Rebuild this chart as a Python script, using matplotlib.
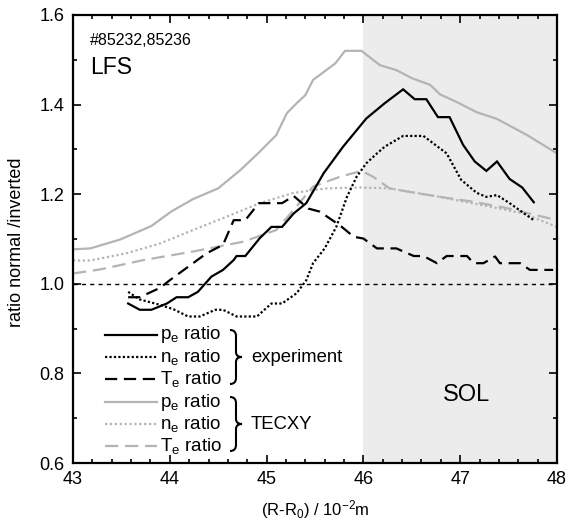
import matplotlib
matplotlib.use("Agg")
import matplotlib.pyplot as plt
from matplotlib.lines import Line2D
from matplotlib.path import Path
from matplotlib.patches import PathPatch
from matplotlib.ticker import MultipleLocator, FormatStrFormatter

plt.rcParams['font.family'] = ['Liberation Sans', 'DejaVu Sans']
plt.rcParams['mathtext.fontset'] = 'custom'
plt.rcParams['mathtext.rm'] = 'Liberation Sans'
plt.rcParams['mathtext.it'] = 'Liberation Sans'

# experiment
exp_pe_x = [43.57, 43.69, 43.81, 43.97, 44.07, 44.19, 44.29, 44.43, 44.55, 44.66, 44.69, 44.78, 44.93,
            45.05, 45.16, 45.28, 45.41, 45.59, 45.79, 46.03, 46.22, 46.41, 46.53, 46.65, 46.77, 46.89,
            47.03, 47.15, 47.27, 47.38, 47.51, 47.64, 47.76]
exp_pe_y = [0.956, 0.942, 0.942, 0.956, 0.970, 0.970, 0.982, 1.016, 1.031, 1.053, 1.062, 1.062, 1.102,
            1.127, 1.127, 1.157, 1.180, 1.247, 1.306, 1.369, 1.403, 1.434, 1.412, 1.412, 1.372, 1.372,
            1.310, 1.273, 1.252, 1.273, 1.234, 1.215, 1.182]

exp_ne_x = [43.57, 43.69, 43.90, 44.04, 44.19, 44.31, 44.47, 44.55, 44.69, 44.90, 45.05, 45.16, 45.31,
            45.41, 45.48, 45.60, 45.72, 45.83, 45.93, 46.03, 46.14, 46.22, 46.41, 46.62, 46.86, 47.01,
            47.17, 47.27, 47.38, 47.51, 47.76]
exp_ne_y = [0.982, 0.965, 0.953, 0.943, 0.927, 0.927, 0.942, 0.942, 0.927, 0.927, 0.956, 0.956, 0.979,
            1.008, 1.046, 1.079, 1.127, 1.194, 1.239, 1.269, 1.291, 1.306, 1.330, 1.330, 1.291, 1.232,
            1.203, 1.194, 1.198, 1.180, 1.142]

exp_te_x = [43.57, 43.69, 43.78, 43.90, 44.00, 44.38, 44.55, 44.66, 44.78, 44.92, 45.16, 45.28, 45.43,
            45.55, 45.76, 45.90, 46.00, 46.14, 46.34, 46.52, 46.62, 46.76, 46.86, 47.07, 47.14, 47.24,
            47.36, 47.41, 47.62, 47.72, 47.96]
exp_te_y = [0.970, 0.970, 0.979, 0.991, 1.008, 1.068, 1.087, 1.142, 1.142, 1.180, 1.180, 1.196, 1.168,
            1.161, 1.130, 1.105, 1.101, 1.079, 1.079, 1.062, 1.062, 1.046, 1.062, 1.062, 1.046, 1.046,
            1.061, 1.046, 1.046, 1.031, 1.031]

# TECXY
tec_pe_x = [43.0, 43.18, 43.49, 43.81, 44.02, 44.24, 44.50, 44.73, 44.93, 45.10, 45.21, 45.31, 45.40,
            45.48, 45.71, 45.81, 45.98, 46.17, 46.34, 46.50, 46.69, 46.79, 46.98, 47.17, 47.38, 47.69, 48.0]
tec_pe_y = [1.077, 1.079, 1.099, 1.129, 1.162, 1.189, 1.213, 1.254, 1.295, 1.332, 1.381, 1.403, 1.421,
            1.455, 1.492, 1.520, 1.520, 1.488, 1.477, 1.459, 1.444, 1.423, 1.404, 1.383, 1.368, 1.332, 1.291]

tec_ne_x = [43.0, 43.18, 43.55, 43.90, 44.24, 44.59, 44.93, 45.28, 45.62, 45.96, 46.27, 46.79, 47.31, 47.65, 48.0]
tec_ne_y = [1.052, 1.052, 1.068, 1.090, 1.120, 1.150, 1.180, 1.203, 1.213, 1.215, 1.213, 1.194, 1.172, 1.157, 1.127]

tec_te_x = [43.0, 43.28, 43.73, 44.24, 44.76, 45.10, 45.28, 45.48, 45.76, 45.98, 46.10, 46.27, 46.45,
            46.79, 47.14, 47.48, 48.0]
tec_te_y = [1.023, 1.032, 1.053, 1.072, 1.094, 1.120, 1.165, 1.217, 1.239, 1.252, 1.239, 1.213, 1.206,
            1.194, 1.183, 1.169, 1.142]

legend_labels = ['p$_\\mathrm{e}$ ratio', 'n$_\\mathrm{e}$ ratio', 'T$_\\mathrm{e}$ ratio']
group_labels = ['experiment', 'TECXY']

GRAY = '#b4b4b4'
fig = plt.figure(figsize=(5.67, 5.2), dpi=100)
ax = fig.add_axes([0.1287, 0.1096, 0.8537, 0.8616])

ax.axvspan(46, 48, color='#ececec', zorder=0, lw=0)
ax.axhline(1.0, color='black', lw=1.0, dashes=(3, 3), zorder=1)

lw = 1.6
styles = [
    (tec_pe_x, tec_pe_y, GRAY, None),
    (tec_ne_x, tec_ne_y, GRAY, (1, 1.2)),
    (tec_te_x, tec_te_y, GRAY, (6, 3)),
    (exp_pe_x, exp_pe_y, 'black', None),
    (exp_ne_x, exp_ne_y, 'black', (1, 1)),
    (exp_te_x, exp_te_y, 'black', (5.5, 3)),
]
for x, y, c, d in styles:
    if d is None:
        ax.plot(x, y, color=c, lw=lw, solid_joinstyle='miter')
    else:
        ax.plot(x, y, color=c, lw=lw, dashes=d)

ax.set_xlim(43, 48)
ax.set_ylim(0.6, 1.6)
ax.xaxis.set_major_locator(MultipleLocator(1))
ax.xaxis.set_minor_locator(MultipleLocator(0.2))
ax.yaxis.set_major_locator(MultipleLocator(0.2))
ax.yaxis.set_minor_locator(MultipleLocator(0.1))
ax.yaxis.set_major_formatter(FormatStrFormatter('%.1f'))
ax.tick_params(which='both', direction='in', top=True, right=True, width=1.2, labelsize=13)
ax.tick_params(which='major', length=6, pad=6)
ax.tick_params(which='minor', length=3)
for s in ax.spines.values():
    s.set_linewidth(1.6)

ax.set_ylabel('ratio normal /inverted', fontsize=13)
ax.yaxis.set_label_coords(-0.099, 0.493)
ax.set_xlabel('(R-R$_0$) / 10$^{-2}$m', fontsize=12)
ax.xaxis.set_label_coords(0.5, -0.078)

ax.text(0.035, 0.942, '#85232,85236', transform=ax.transAxes, fontsize=11.5, va='center')
ax.text(0.035, 0.882, 'LFS', transform=ax.transAxes, fontsize=16.5, va='center')
ax.text(0.812, 0.152, 'SOL', transform=ax.transAxes, fontsize=17, ha='center', va='center')

# legend (drawn in axes coordinates)
def px2ax(xp, yp):
    return (xp - 73) / 484.0, (463 - yp) / 448.0

rows_y = [335, 357, 379, 402, 424, 446]
sty = [('black', None), ('black', (1, 1)), ('black', (5.5, 3)),
       (GRAY, None), (GRAY, (1, 1.2)), (GRAY, (6, 3))]
for i, yp in enumerate(rows_y):
    c, d = sty[i]
    x0, y0 = px2ax(105, yp)
    x1, _ = px2ax(157, yp)
    ln = Line2D([x0, x1], [y0, y0], transform=ax.transAxes, color=c, lw=lw)
    if d is not None:
        ln.set_dashes(d)
    ax.add_line(ln)
    tx, ty = px2ax(160, yp)
    ax.text(tx, ty, legend_labels[i % 3], transform=ax.transAxes, fontsize=13.5, va='center')

def brace(yc, half=27):
    pts_px = [(230, yc - half), (236, yc - half), (236, yc - half + 6),
              (236, yc - 5),
              (236, yc), (242, yc),
              (236, yc), (236, yc + 5),
              (236, yc + half - 6),
              (236, yc + half), (230, yc + half)]
    codes = [Path.MOVETO, Path.CURVE3, Path.CURVE3, Path.LINETO,
             Path.CURVE3, Path.CURVE3, Path.CURVE3, Path.CURVE3,
             Path.LINETO, Path.CURVE3, Path.CURVE3]
    verts = [px2ax(*p) for p in pts_px]
    patch = PathPatch(Path(verts, codes), transform=ax.transAxes, fill=False,
                      lw=1.5, edgecolor='black', capstyle='butt', joinstyle='miter')
    ax.add_patch(patch)

for yc, lab in zip([357, 424], group_labels):
    brace(yc)
    lx, ly = px2ax(251, yc)
    ax.text(lx, ly, lab, transform=ax.transAxes, fontsize=13.3, va='center')

fig.savefig('out.png', dpi=100)
